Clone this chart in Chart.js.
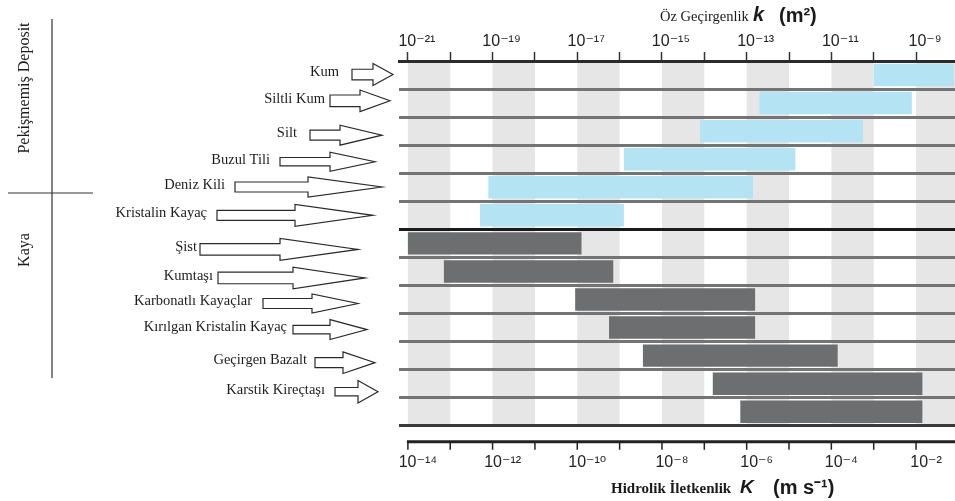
<!DOCTYPE html>
<html>
<head>
<meta charset="utf-8">
<script src="https://cdn.jsdelivr.net/npm/chart.js@4.4.0/dist/chart.umd.min.js"></script>
<style>
  html, body { margin: 0; padding: 0; background: #fff; }
  #wrap { width: 955px; height: 501px; }
</style>
</head>
<body>
<div id="wrap"><canvas id="chartPermeability"></canvas></div>
<script>
var rows = ['Kum', 'Siltli Kum', 'Silt', 'Buzul Tili', 'Deniz Kili', 'Kristalin Kayaç',
  'Şist', 'Kumtaşı', 'Karbonatlı Kayaçlar', 'Kırılgan Kristalin Kayaç', 'Geçirgen Bazalt', 'Karstik Kireçtaşı', ''];
var groups = ['Pekişmemiş Deposit', 'Pekişmemiş Deposit', 'Pekişmemiş Deposit', 'Pekişmemiş Deposit', 'Pekişmemiş Deposit', 'Pekişmemiş Deposit',
  'Kaya', 'Kaya', 'Kaya', 'Kaya', 'Kaya', 'Kaya', 'Kaya'];

// log10 of k (m2)
var logKLow  = [-10.0, -12.7, -14.1, -15.9, -19.1, -19.3, -21.0, -20.15, -17.05, -16.25, -15.45, -13.8, -13.15];
var logKHigh = [-8.1,  -9.1,  -10.25, -11.85, -12.85, -15.9, -16.9, -16.15, -12.8, -12.8, -10.85, -8.85, -8.85];

var kTickLabels = [-21, -19, -17, -15, -13, -11, -9];
var KTickLabels = [-14, -12, -10, -8, -6, -4, -2];
var kToK = 7;   // K = k * 1e7
var xMin = -21.21, xMax = -8.08;

var groupColors = { 'Pekişmemiş Deposit': '#b4e3f4', 'Kaya': '#6c6e6f' };

// label text right, tail start, head start, tip, tail half, head half, dy
var arrowShapes = [
  [339, 352, 373, 393, 5.3, 11, -0.5],
  [325, 330, 360, 390, 5.8, 10.8, -2.3],
  [297, 310, 340, 382, 5, 10, 4],
  [270, 280, 330, 375, 4.2, 9.5, 2.5],
  [225, 235, 308, 382, 5, 10, -0.3],
  [207, 217, 295, 373, 5, 11, 0],
  [197, 200, 280, 358, 5.8, 11, 6],
  [213, 218, 293, 365, 5.8, 10.8, 6.5],
  [252, 263, 312, 358, 5, 9.5, 4],
  [287, 293, 330, 367, 4.2, 10, 2],
  [307, 315, 343, 375, 5, 10.8, 7],
  [325, 335, 358, 378, 4.2, 11.3, 8]
];

var supMap = {'-': '⁻', '0': '⁰', '1': '¹', '2': '²', '3': '³', '4': '⁴', '5': '⁵', '6': '⁶', '7': '⁷', '8': '⁸', '9': '⁹'};
toSup = function(n) {
  return String(n).split('').map(function(c) { return supMap[c]; }).join('');
};

powerLabel = function(list) {
  return function(value) {
    var v = Math.round(value);
    return list.indexOf(v) >= 0 ? '10' + toSup(v) : '';
  };
};

noEdgePadding = function(scale) {
  scale.paddingLeft = 0;
  scale.paddingRight = 0;
};

var bandsPlugin = {
  id: 'bands',
  beforeDraw: function(chart) {
    var ctx = chart.ctx, ca = chart.chartArea, x = chart.scales.x;
    ctx.save();
    ctx.fillStyle = '#e6e6e6';
    for (var e = -21; e < xMax; e += 2) {
      var a = Math.max(x.getPixelForValue(e), ca.left);
      var b = Math.min(x.getPixelForValue(e + 1), ca.right);
      if (b > a) ctx.fillRect(a, ca.top, b - a, ca.bottom - ca.top);
    }
    ctx.restore();
  }
};

drawArrow = function(ctx, s, y) {
  ctx.beginPath();
  ctx.moveTo(s[1], y - s[4]);
  ctx.lineTo(s[2], y - s[4]);
  ctx.lineTo(s[2], y - s[5]);
  ctx.lineTo(s[3], y);
  ctx.lineTo(s[2], y + s[5]);
  ctx.lineTo(s[2], y + s[4]);
  ctx.lineTo(s[1], y + s[4]);
  ctx.closePath();
  ctx.fillStyle = '#fff';
  ctx.fill();
  ctx.strokeStyle = '#2a2a2a';
  ctx.lineWidth = 1.2;
  ctx.stroke();
};

var annotatePlugin = {
  id: 'annotate',
  afterDraw: function(chart) {
    var ctx = chart.ctx, ca = chart.chartArea, yScale = chart.scales.y, x2 = chart.scales.x2;
    ctx.save();

    // row labels with arrows
    ctx.font = '14.5px "Liberation Serif"';
    ctx.textAlign = 'right';
    ctx.textBaseline = 'middle';
    arrowShapes.forEach(function(s, i) {
      var y = yScale.getPixelForValue(i) + s[6];
      drawArrow(ctx, s, y);
      ctx.fillStyle = '#1c1c1c';
      ctx.fillText(rows[i], s[0], y - 2);
    });

    // group brackets
    ctx.strokeStyle = '#333';
    ctx.lineWidth = 1.2;
    ctx.beginPath();
    ctx.moveTo(52, 19); ctx.lineTo(52, 378);
    ctx.moveTo(8, 193); ctx.lineTo(93, 193);
    ctx.stroke();

    ctx.fillStyle = '#1c1c1c';
    ctx.font = '16px "Liberation Serif"';
    ctx.textAlign = 'center';
    [['Pekişmemiş Deposit', 88], ['Kaya', 250]].forEach(function(g) {
      ctx.save();
      ctx.translate(25, g[1]);
      ctx.rotate(-Math.PI / 2);
      ctx.fillText(g[0], 0, 0);
      ctx.restore();
    });

    // bottom axis line and ticks
    var yb = ca.bottom + 16;
    ctx.strokeStyle = '#222';
    ctx.lineWidth = 3;
    ctx.beginPath();
    ctx.moveTo(x2.getPixelForValue(-14) - 1, yb);
    ctx.lineTo(ca.right, yb);
    ctx.stroke();
    ctx.lineWidth = 1.5;
    ctx.beginPath();
    x2.ticks.forEach(function(t) {
      var px = x2.getPixelForValue(t.value);
      ctx.moveTo(px, yb);
      ctx.lineTo(px, yb + 8);
    });
    ctx.stroke();

    // axis titles
    ctx.textAlign = 'left';
    ctx.textBaseline = 'alphabetic';
    ctx.fillStyle = '#1a1a1a';
    ctx.font = '14.5px "Liberation Serif"';
    ctx.fillText('Öz Geçirgenlik', 660, 21);
    ctx.font = 'italic bold 20px "Liberation Sans"';
    ctx.fillText('k', 753, 21);
    ctx.font = 'bold 20px "Liberation Sans"';
    ctx.fillText('(m²)', 779, 22);

    ctx.font = 'bold 15px "Liberation Serif"';
    ctx.fillText('Hidrolik İletkenlik', 611, 493);
    ctx.font = 'italic bold 19px "Liberation Sans"';
    ctx.fillText('K', 740, 493);
    ctx.font = 'bold 20px "Liberation Sans"';
    ctx.fillText('(m s⁻¹)', 773, 494);

    ctx.restore();
  }
};

var tickFont = { family: '"Liberation Sans", "DejaVu Sans"', size: 16 };

var config = {
  type: 'bar',
  data: {
    labels: rows,
    datasets: [{
      data: rows.map(function(r, i) { return [logKLow[i], logKHigh[i]]; }),
      backgroundColor: groups.map(function(g) { return groupColors[g]; }),
      borderWidth: 0,
      barPercentage: 1,
      categoryPercentage: 0.8
    }]
  },
  options: {
    indexAxis: 'y',
    responsive: true,
    maintainAspectRatio: false,
    animation: false,
    layout: { padding: { left: 399, right: 0, top: 30.8, bottom: 2 } },
    plugins: { legend: { display: false }, tooltip: { enabled: false } },
    scales: {
      x: {
        type: 'linear', position: 'top', min: xMin, max: xMax,
        afterFit: noEdgePadding,
        border: { display: true, color: '#2b2b2b', width: 3 },
        grid: { drawOnChartArea: false, drawTicks: true, tickLength: 9, tickColor: '#333', tickWidth: 1.5 },
        ticks: { stepSize: 1, includeBounds: false, autoSkip: false, maxRotation: 0, padding: 1, labelOffset: 9,
                 color: '#222', font: tickFont, callback: powerLabel(kTickLabels) }
      },
      x2: {
        type: 'linear', position: 'bottom', min: xMin + kToK, max: xMax + kToK,
        afterFit: noEdgePadding,
        border: { display: false },
        grid: { display: false, drawTicks: false },
        ticks: { stepSize: 1, includeBounds: false, autoSkip: false, maxRotation: 0, padding: 27, labelOffset: 10,
                 color: '#222', font: tickFont, callback: powerLabel(KTickLabels) }
      },
      y: {
        type: 'category',
        border: { display: false },
        grid: {
          offset: true, drawTicks: false, lineWidth: 3,
          color: function(c) {
            if (c.index === undefined) return '#3a3a3a';
            if (c.index === 6) return '#1a1a1a';
            return '#747474';
          }
        },
        ticks: { display: false }
      }
    }
  },
  plugins: [bandsPlugin, annotatePlugin]
};

window.chartPermeability = new Chart(document.getElementById('chartPermeability').getContext('2d'), config);
</script>
</body>
</html>
